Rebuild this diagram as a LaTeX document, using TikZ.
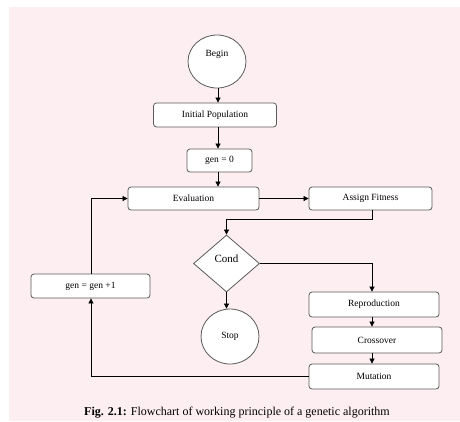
\documentclass[tikz,border=0pt]{standalone}
\usepackage{fontspec}
\setmainfont{Liberation Serif}
\usetikzlibrary{shapes.geometric,arrows.meta}
\definecolor{bgpink}{RGB}{253,239,241}
\definecolor{edgegray}{RGB}{90,90,90}
\tikzset{
  box/.style={draw=edgegray, fill=white, rounded corners=3pt, line width=0.8pt, inner sep=0pt, font=\fontsize{9.5}{11}\selectfont},
  oval/.style={ellipse, draw=edgegray, fill=white, line width=0.8pt, inner sep=0pt, font=\fontsize{9.5}{11}\selectfont},
  decision/.style={diamond, draw=edgegray, fill=white, line width=0.8pt, inner sep=0pt, font=\fontsize{11}{13}\selectfont},
  conn/.style={line width=0.7pt, -{Triangle[length=5pt,width=5pt]}},
  plain/.style={line width=0.7pt}
}
\begin{document}
\begin{tikzpicture}[x=1pt,y=-1pt]
\useasboundingbox (0,0) rectangle (460,421);
\fill[bgpink] (9,7) rectangle (460,421);

\node[oval, minimum width=58, minimum height=53,
  label={[anchor=north, yshift=-12pt, font=\fontsize{9.5}{11}\selectfont]north:Begin}] (begin) at (217,61.5) {};
\node[box, minimum width=123, minimum height=24] (init) at (215,115) {Initial Population};
\node[box, minimum width=65, minimum height=23] (gen0) at (219.5,160.5) {gen = 0};
\node[box, minimum width=131, minimum height=23] (eval) at (193.5,198.5) {Evaluation};
\node[box, minimum width=123, minimum height=23] (fit) at (370.5,198.5) {Assign Fitness};
\node[decision, minimum width=66, minimum height=57,
  label={[anchor=center, yshift=5pt, font=\fontsize{11}{13}\selectfont]center:Cond}] (cond) at (226.5,263.5) {};
\node[box, minimum width=119, minimum height=24] (genp) at (90.5,286) {gen = gen +1};
\node[oval, minimum width=58, minimum height=55] (stop) at (230,336.5) {Stop};
\node[box, minimum width=130, minimum height=25] (repro) at (374,304.5) {Reproduction};
\node[box, minimum width=130, minimum height=26] (cross) at (377,340) {Crossover};
\node[box, minimum width=130, minimum height=25] (mut) at (374,376.5) {Mutation};

\coordinate (col) at (218,0);
\coordinate (col2) at (372,0);
\coordinate (col3) at (91,0);
\coordinate (turn) at (0,219);

\draw[conn] (col |- begin.south) -- (col |- init.north);
\draw[conn] (col |- init.south) -- (col |- gen0.north);
\draw[conn] (col |- gen0.south) -- (col |- eval.north);
\draw[conn] (eval.east) -- (fit.west);
\draw[conn] (col2 |- fit.south) -- (col2 |- turn) -- (cond.north |- turn) -- (cond.north);
\draw[conn] (cond.east) -- (col2 |- cond.east) -- (col2 |- repro.north);
\draw[conn] (cond.south) -- (cond.south |- stop.north);
\draw[conn] (col2 |- repro.south) -- (col2 |- cross.north);
\draw[conn] (col2 |- cross.south) -- (col2 |- mut.north);
\draw[conn] (mut.west) -- (col3 |- mut.west) -- (col3 |- genp.south);
\draw[conn] (col3 |- genp.north) -- (col3 |- eval.west) -- (eval.west);

\node[font=\fontsize{12}{14}\selectfont] (cap) at (237,413) {\textbf{Fig. 2.1:} Flowchart of working principle of a genetic algorithm};
\end{tikzpicture}
\end{document}
